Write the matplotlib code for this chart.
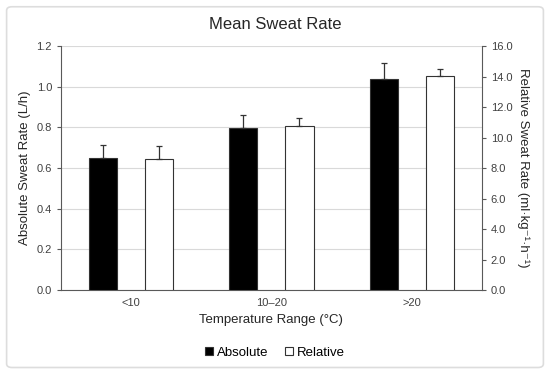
import matplotlib.pyplot as plt
import numpy as np
from matplotlib.patches import FancyBboxPatch

plt.rcParams['font.family'] = ['Liberation Sans', 'DejaVu Sans']

# Données
categories = ["<10", "10\u201320", ">20"]
absolute = [0.648, 0.798, 1.039]
absolute_err = [0.064, 0.064, 0.079]
relative = [8.6, 10.74, 14.05]
relative_err = [0.87, 0.56, 0.45]

fig = plt.figure(figsize=(5.5, 3.75), dpi=100)
ax = fig.add_axes([0.111, 0.2267, 0.765, 0.6503])
ax2 = ax.twinx()

# Cadre gris clair autour de la figure
fig.patches.append(FancyBboxPatch((0.012, 0.02), 0.976, 0.962, boxstyle="round,pad=0,rounding_size=0.01",
                                  transform=fig.transFigure, fill=False, edgecolor="#dddddd", linewidth=1.2))

x = np.arange(len(categories))
w = 0.2

ax.bar(x - w, absolute, w, color="black", edgecolor="#333333", linewidth=0.8,
       yerr=[[0] * 3, absolute_err], error_kw=dict(ecolor="#333333", capsize=2.5, elinewidth=0.9, capthick=0.9),
       zorder=3, label="Absolute")
ax2.bar(x + w, relative, w, color="white", edgecolor="#333333", linewidth=0.8,
        yerr=[[0] * 3, relative_err], error_kw=dict(ecolor="#333333", capsize=2.5, elinewidth=0.9, capthick=0.9),
        zorder=3, label="Relative")

ax.set_xlim(-0.5, 2.5)
ax.set_ylim(0, 1.2)
ax2.set_ylim(0, 16)
ax.set_yticks(np.arange(0, 1.21, 0.2))
ax.set_yticklabels([f"{v:.1f}" for v in np.arange(0, 1.21, 0.2)])
ax2.set_yticks(np.arange(0, 16.1, 2))
ax2.set_yticklabels([f"{v:.1f}" for v in np.arange(0, 16.1, 2)])
ax.set_xticks(x)
ax.set_xticklabels(categories)

ax.yaxis.grid(True, color="#d9d9d9", linewidth=0.8, zorder=0)
ax.set_axisbelow(True)

for a in (ax, ax2):
    a.spines["top"].set_visible(False)
    for s in ("left", "right", "bottom"):
        a.spines[s].set_color("#595959")
        a.spines[s].set_linewidth(0.8)
    a.tick_params(labelsize=8, colors="#595959", labelcolor="#404040", length=3, width=0.8)
ax.tick_params(axis="x", length=0, pad=6)
ax.spines["right"].set_visible(False)
ax2.spines["left"].set_visible(False)
ax2.spines["bottom"].set_visible(False)

ax.set_ylabel("Absolute Sweat Rate (L/h)", fontsize=9.5, color="#262626")
ax2.set_ylabel("Relative Sweat Rate (ml\u00b7kg\u207b\u00b9\u00b7h\u207b\u00b9)", fontsize=9.5, color="#262626",
               rotation=270, labelpad=12)
ax.set_xlabel("Temperature Range (\u00b0C)", fontsize=9.5, color="#262626", labelpad=4)
fig.suptitle("Mean Sweat Rate", fontsize=12, y=0.955, color="#262626")

h1, l1 = ax.get_legend_handles_labels()
h2, l2 = ax2.get_legend_handles_labels()
fig.legend(h1 + h2, l1 + l2, loc="center", bbox_to_anchor=(0.5, 0.06), ncol=2, frameon=False,
           fontsize=9.5, handlelength=0.6, handleheight=0.6, handletextpad=0.3, columnspacing=1.2)

fig.savefig("out.png", dpi=100)
